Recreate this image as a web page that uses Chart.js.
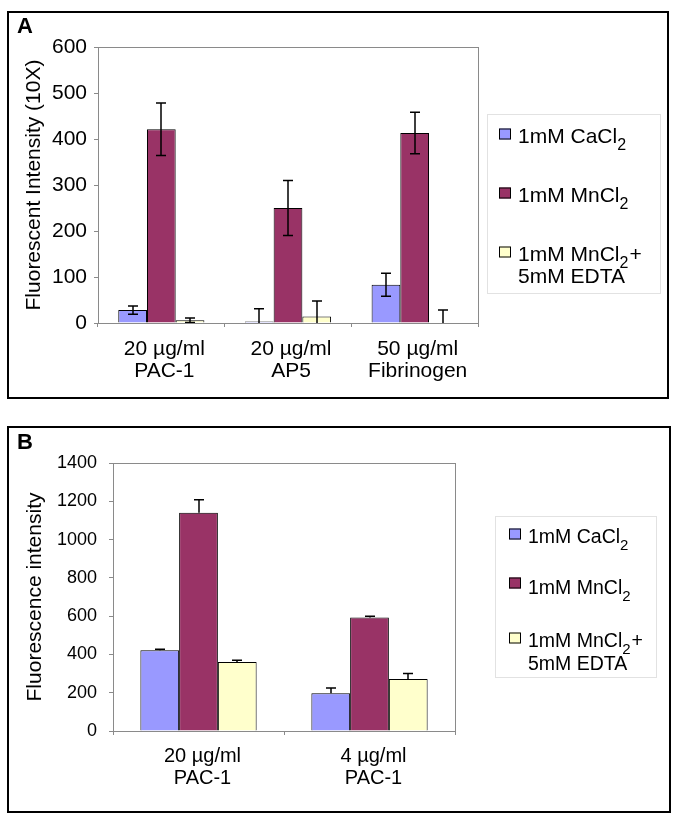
<!DOCTYPE html>
<html>
<head>
<meta charset="utf-8">
<script src="https://cdn.jsdelivr.net/npm/chart.js@4.4.1/dist/chart.umd.min.js"></script>
<style>
    body { margin: 0; background: #fff; width: 675px; height: 822px; position: relative; overflow: hidden; }
    .panel { position: absolute; border: 2px solid #000; box-sizing: border-box; }
    #panelA { left: 7px; top: 11px; width: 662px; height: 388px; }
    #panelB { left: 7px; top: 426px; width: 664px; height: 387px; }
    canvas { display: block; }
</style>
</head>
<body>
<div class="panel" id="panelA"><canvas id="chartA" width="658" height="384"></canvas></div>
<div class="panel" id="panelB"><canvas id="chartB" width="660" height="383"></canvas></div>
<script>
const FONT = '"Liberation Sans", Arial, Helvetica, sans-serif';
Chart.defaults.font.family = FONT;
Chart.defaults.color = '#000';

// Panel A data
const categoriesA = [['20 µg/ml', 'PAC-1'], ['20 µg/ml', 'AP5'], ['50 µg/ml', 'Fibrinogen']];
const cacl2A = [28, 3, 83];
const cacl2ErrA = [9, 28, 25];
const mncl2A = [421, 250, 413];
const mncl2ErrA = [57, 60, 45];
const edtaA = [6, 14, 0];
const edtaErrA = [5, 34, 28];
const yTicksA = [0, 100, 200, 300, 400, 500, 600];

// Panel B data
const categoriesB = [['20 µg/ml', 'PAC-1'], ['4 µg/ml', 'PAC-1']];
const cacl2B = [422, 197];
const cacl2ErrB = [5, 28];
const mncl2B = [1140, 593];
const mncl2ErrB = [68, 7];
const edtaB = [361, 272];
const edtaErrB = [9, 28];
const yTicksB = [0, 200, 400, 600, 800, 1000, 1200, 1400];

const seriesNames = ['1mM CaCl2', '1mM MnCl2', '1mM MnCl2+ 5mM EDTA'];
const seriesColors = ['#9999FF', '#993366', '#FFFFCC'];

// legend text pieces (subscripts drawn smaller and lower)
const legendParts = [
    [[{ t: '1mM CaCl' }, { t: '2', sub: true }]],
    [[{ t: '1mM MnCl' }, { t: '2', sub: true }]],
    [[{ t: '1mM MnCl' }, { t: '2', sub: true }, { t: '+' }], [{ t: '5mM EDTA' }]]
];

function drawParts(ctx, x, y, parts, size) {
    let cx = x;
    parts.forEach(p => {
        const fs = p.sub ? Math.round(size * 0.78) : size;
        ctx.font = fs + 'px ' + FONT;
        ctx.fillText(p.t, cx, p.sub ? y + size * 0.35 : y);
        cx += ctx.measureText(p.t).width + (p.sub ? 1 : 0);
    });
}

// grey frame around plot area
const plotFrame = {
    id: 'plotFrame',
    beforeDatasetsDraw(chart) {
        const a = chart.chartArea;
        const ctx = chart.ctx;
        ctx.save();
        ctx.strokeStyle = '#8a8a8a';
        ctx.lineWidth = 1;
        ctx.strokeRect(Math.round(a.left) + 0.5, Math.round(a.top) + 0.5,
            Math.round(a.width), Math.round(a.height));
        ctx.restore();
    }
};

const errorBars = {
    id: 'errorBars',
    afterDatasetsDraw(chart, args, opts) {
        const ctx = chart.ctx;
        const ys = chart.scales.y;
        const a = chart.chartArea;
        ctx.save();
        ctx.beginPath();
        ctx.rect(a.left, a.top - 20, a.width, a.height + 20);
        ctx.clip();
        ctx.strokeStyle = '#000';
        ctx.lineWidth = 1.5;
        chart.data.datasets.forEach((ds, i) => {
            const meta = chart.getDatasetMeta(i);
            meta.data.forEach((bar, j) => {
                const v = ds.data[j];
                const e = ds.errors[j];
                const x = Math.round(bar.x);
                const top = ys.getPixelForValue(v + e);
                const bot = opts.upOnly ? ys.getPixelForValue(v) : ys.getPixelForValue(v - e);
                const cap = 5;
                ctx.beginPath();
                ctx.moveTo(x, top);
                ctx.lineTo(x, bot);
                ctx.moveTo(x - cap, top);
                ctx.lineTo(x + cap, top);
                if (!opts.upOnly && v - e >= 0) {
                    ctx.moveTo(x - cap, bot);
                    ctx.lineTo(x + cap, bot);
                }
                ctx.stroke();
            });
        });
        ctx.restore();
    }
};

const panelDecor = {
    id: 'panelDecor',
    afterDraw(chart, args, opts) {
        const ctx = chart.ctx;
        ctx.save();
        ctx.fillStyle = '#000';
        ctx.textBaseline = 'alphabetic';
        ctx.font = 'bold 22px ' + FONT;
        ctx.fillText(opts.letter, opts.letterX, opts.letterY);

        const b = opts.box;
        ctx.strokeStyle = '#e2e2e2';
        ctx.lineWidth = 1;
        ctx.strokeRect(b[0] + 0.5, b[1] + 0.5, b[2], b[3]);

        opts.items.forEach((it, i) => {
            ctx.fillStyle = seriesColors[i];
            ctx.fillRect(opts.squareX, it.sq - 5.5, 12, 11);
            ctx.strokeStyle = '#000';
            ctx.strokeRect(opts.squareX + 0.5, it.sq - 5, 11, 10);
            ctx.fillStyle = '#000';
            legendParts[i].forEach((line, k) => {
                drawParts(ctx, opts.textX, it.base[k], line, opts.fontSize);
            });
        });
        ctx.restore();
    }
};

function makeDatasets(vals, errs, names) {
    return vals.map((v, i) => ({
        label: names[i],
        data: v,
        errors: errs[i],
        backgroundColor: seriesColors[i],
        borderColor: '#000',
        borderWidth: 1,
        categoryPercentage: 0.68,
        barPercentage: 1.0
    }));
}

new Chart(document.getElementById('chartA'), {
    type: 'bar',
    data: {
        labels: categoriesA,
        datasets: makeDatasets([cacl2A, mncl2A, edtaA], [cacl2ErrA, mncl2ErrA, edtaErrA], seriesNames)
    },
    plugins: [plotFrame, errorBars, panelDecor],
    options: {
        responsive: false,
        animation: false,
        layout: { padding: { left: 0, top: 34, right: 189, bottom: 0 } },
        plugins: {
            legend: { display: false },
            tooltip: { enabled: false },
            errorBars: { upOnly: false },
            panelDecor: {
                letter: 'A', letterX: 8, letterY: 20,
                box: [478, 101, 173, 179],
                squareX: 490, textX: 509, fontSize: 21,
                items: [
                    { sq: 121, base: [130] },
                    { sq: 180, base: [189] },
                    { sq: 239, base: [248, 270] }
                ]
            }
        },
        scales: {
            x: {
                grid: { offset: true, drawOnChartArea: false, tickLength: 4, color: '#8a8a8a' },
                border: { display: false },
                ticks: { font: { size: 21, lineHeight: 1.05 }, padding: 11, maxRotation: 0, autoSkip: false, labelOffset: 3 },
                afterFit: s => { s.height = 74; }
            },
            y: {
                min: 0,
                max: 600,
                afterBuildTicks: s => { s.ticks = yTicksA.map(v => ({ value: v })); },
                grid: { drawOnChartArea: false, tickLength: 4, color: '#8a8a8a' },
                border: { display: false },
                ticks: { font: { size: 21 }, padding: 7, callback: v => String(v) },
                title: { display: true, text: 'Fluorescent Intensity (10X)', font: { size: 21 }, padding: { top: 13, bottom: 0 } },
                afterFit: s => { s.width = 89; }
            }
        }
    }
});

new Chart(document.getElementById('chartB'), {
    type: 'bar',
    data: {
        labels: categoriesB,
        datasets: makeDatasets([cacl2B, mncl2B, edtaB], [cacl2ErrB, mncl2ErrB, edtaErrB], seriesNames)
    },
    plugins: [plotFrame, errorBars, panelDecor],
    options: {
        responsive: false,
        animation: false,
        layout: { padding: { left: 0, top: 35, right: 214, bottom: 0 } },
        plugins: {
            legend: { display: false },
            tooltip: { enabled: false },
            errorBars: { upOnly: true },
            panelDecor: {
                letter: 'B', letterX: 8, letterY: 21,
                box: [486, 88, 161, 161],
                squareX: 500, textX: 519, fontSize: 19.5,
                items: [
                    { sq: 106, base: [115] },
                    { sq: 155, base: [166] },
                    { sq: 210, base: [219, 242] }
                ]
            }
        },
        scales: {
            x: {
                grid: { offset: true, drawOnChartArea: false, tickLength: 4, color: '#8a8a8a' },
                border: { display: false },
                ticks: { font: { size: 20, lineHeight: 1.1 }, padding: 10, maxRotation: 0, autoSkip: false, labelOffset: 4 },
                afterFit: s => { s.height = 80; }
            },
            y: {
                min: 0,
                max: 1400,
                afterBuildTicks: s => { s.ticks = yTicksB.map(v => ({ value: v })); },
                grid: { drawOnChartArea: false, tickLength: 4, color: '#8a8a8a' },
                border: { display: false },
                ticks: { font: { size: 18 }, padding: 12, callback: v => String(v) },
                title: { display: true, text: 'Fluorescence intensity', font: { size: 21 }, padding: { top: 14, bottom: 0 } },
                afterFit: s => { s.width = 104; }
            }
        }
    }
});
</script>
</body>
</html>
